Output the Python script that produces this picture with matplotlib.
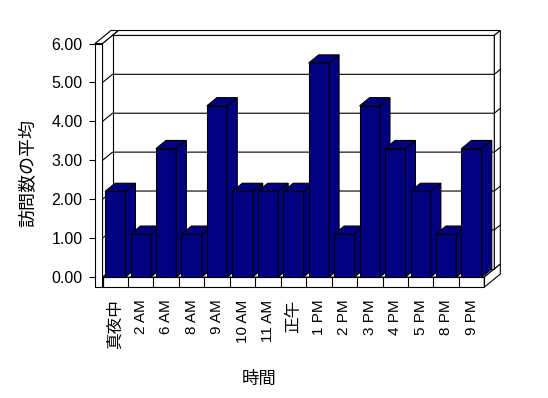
import matplotlib
matplotlib.use("Agg")
import matplotlib.pyplot as plt
from matplotlib.patches import Polygon

plt.rcParams['font.family'] = ['Liberation Sans', 'Noto Sans CJK JP']

# data
hours = ['真夜中', '2 AM', '6 AM', '8 AM', '9 AM', '10 AM', '11 AM', '正午',
         '1 PM', '2 PM', '3 PM', '4 PM', '5 PM', '8 PM', '9 PM']
visits = [2.2, 1.1, 3.3, 1.1, 4.4, 2.2, 2.2, 2.2, 5.5, 1.1, 4.4, 3.3, 2.2, 1.1, 3.3]
yticks = [0, 1, 2, 3, 4, 5, 6]

navy = '#000080'
DX, DY = 0.393, 0.21      # oblique depth offset (data units per unit depth)
lw = 0.8


def P(x, y, z):
    return (x + z * DX, y + z * DY)


def faces(x0, x1, y0, y1, z0, z1, front=True):
    out = []
    if front:
        out.append([P(x0, y0, z0), P(x1, y0, z0), P(x1, y1, z0), P(x0, y1, z0)])
    out.append([P(x0, y1, z0), P(x1, y1, z0), P(x1, y1, z1), P(x0, y1, z1)])
    out.append([P(x1, y0, z0), P(x1, y0, z1), P(x1, y1, z1), P(x1, y1, z0)])
    return out


def add_faces(ax, polys, fc, z):
    for pts in polys:
        ax.add_patch(Polygon(pts, closed=True, facecolor=fc, edgecolor='black',
                             lw=lw, zorder=z, clip_on=False))


fig = plt.figure(figsize=(5.48, 3.98), dpi=100)
ax = fig.add_axes([0.1732, 0.2786, 0.7431, 0.6510])

n = len(hours)
x_lo, x_hi = -0.5, n - 0.5
floor = -0.26
top = yticks[-1]

# left wall, floor, back wall
add_faces(ax, faces(-0.8, x_lo, floor, top, 0, 1.6), 'white', 1)
add_faces(ax, faces(x_lo, x_hi, floor, 0, 0, 1.6), 'white', 2)
add_faces(ax, faces(x_lo, x_hi, 0, top, 1, 1.6), 'white', 3)

# category dividers on floor front
for i in range(n + 1):
    ax.plot([x_lo + i, x_lo + i], [floor, 0], color='black', lw=lw, zorder=4)

# gridlines: left wall inner face, back wall, back wall right side
for v in yticks[1:-1]:
    xs, ys = zip(P(x_lo, v, 0), P(x_lo, v, 1), P(x_hi, v, 1), P(x_hi, v, 1.6))
    ax.plot(xs, ys, color='black', lw=lw, zorder=4)

# bars
bars = ax.bar(range(n), visits, width=0.8, color=navy, edgecolor='black', lw=lw)
for i, (b, v) in enumerate(zip(bars, visits)):
    b.set_zorder(10 + i)
    add_faces(ax, faces(i - 0.4, i + 0.4, 0, v, 0, 1.0, front=False), navy, 10 + i)

ax.set_xlim(-0.8, 15.2)
ax.set_ylim(floor, 6.4)
for s in ax.spines.values():
    s.set_visible(False)

ax.set_yticks(yticks)
ax.set_yticklabels(['%.2f' % v for v in yticks], fontsize=11.5)
ax.tick_params(axis='y', length=4, width=lw, pad=5)

ax.set_xticks(range(n))
ax.set_xticklabels(hours, rotation=90, fontsize=11)
for t in ax.get_xticklabels():
    if not t.get_text().isascii():
        t.set_fontsize(12)
ax.tick_params(axis='x', length=0, pad=9)

ax.set_xlabel('時間', fontsize=12.5)
ax.xaxis.set_label_coords(0.403, -0.325)
ax.set_ylabel('訪問数の平均', fontsize=13)
ax.yaxis.set_label_coords(-0.14, 0.44)

fig.savefig('out.png', dpi=100)
